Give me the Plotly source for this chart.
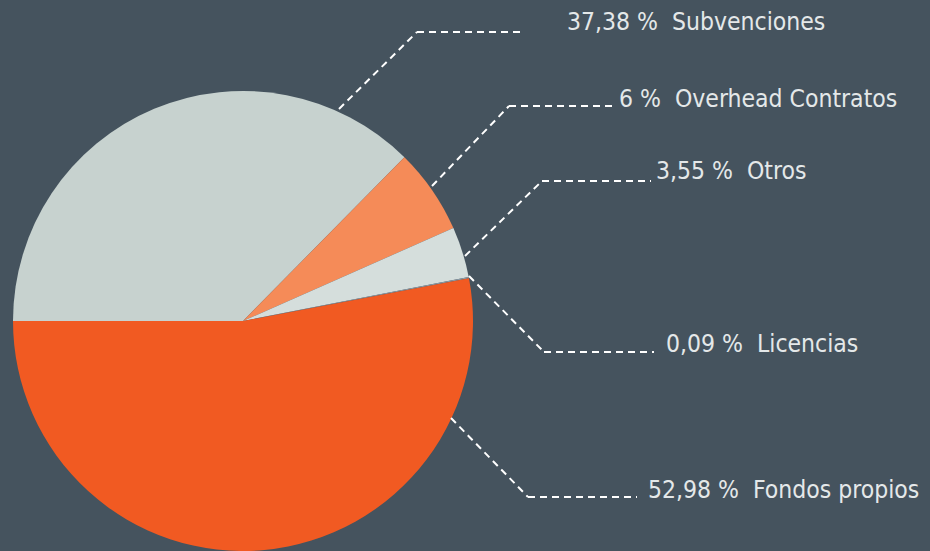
import plotly.graph_objects as go

W, H = 930, 551

# slices listed clockwise starting at 9 o'clock
categories = ["Subvenciones", "Overhead Contratos", "Otros", "Licencias", "Fondos propios"]
values = [37.38, 6, 3.55, 0.09, 52.98]
value_labels = ["37,38 %", "6 %", "3,55 %", "0,09 %", "52,98 %"]
colors = ["#C7D2CF", "#F58B58", "#D5DEDC", "#8C9BA5", "#F15A22"]

# layout helpers (pixel positions of leaders and labels)
leaders = {
    "Subvenciones": [(339, 109), (417, 32), (524, 32)],
    "Overhead Contratos": [(432, 186), (509, 106), (617, 106)],
    "Otros": [(465, 256), (542, 181), (651, 181)],
    "Licencias": [(469, 276), (544, 352), (654, 352)],
    "Fondos propios": [(451, 418), (528, 497), (637, 497)],
}
label_pos = {
    "Subvenciones": (565, 22),
    "Overhead Contratos": (617, 99),
    "Otros": (654, 171),
    "Licencias": (664, 343),
    "Fondos propios": (646, 489),
}

def px(x):
    return x / W

def py(y):
    return 1 - y / H

fig = go.Figure(go.Pie(
    labels=categories,
    values=values,
    sort=False,
    direction="clockwise",
    rotation=-90,
    marker=dict(colors=colors, line=dict(width=0)),
    textinfo="none",
    hoverinfo="label+percent",
    showlegend=False,
    domain=dict(x=[px(13), px(473)], y=[py(551), py(91)]),
))

shapes = []
for name, pts in leaders.items():
    for (x0, y0), (x1, y1) in zip(pts[:-1], pts[1:]):
        shapes.append(dict(type="line", xref="paper", yref="paper",
                           x0=px(x0), y0=py(y0), x1=px(x1), y1=py(y1),
                           line=dict(color="white", width=2, dash="7px,5px")))

annotations = []
for name, vl in zip(categories, value_labels):
    x, y = label_pos[name]
    annotations.append(dict(
        text=f"{vl}\u00a0\u00a0{name}", xref="paper", yref="paper",
        x=px(x), y=py(y), xanchor="left", yanchor="middle", showarrow=False,
        font=dict(family="DejaVu Sans Condensed, sans-serif", size=24.5, color="#E4E8E9"),
    ))

fig.update_layout(
    width=W, height=H,
    margin=dict(l=0, r=0, t=0, b=0),
    paper_bgcolor="#45535E",
    plot_bgcolor="#45535E",
    shapes=shapes,
    annotations=annotations,
)

fig.write_html("out.html", config={"displayModeBar": False},
               post_script="document.body.style.margin='0';")
